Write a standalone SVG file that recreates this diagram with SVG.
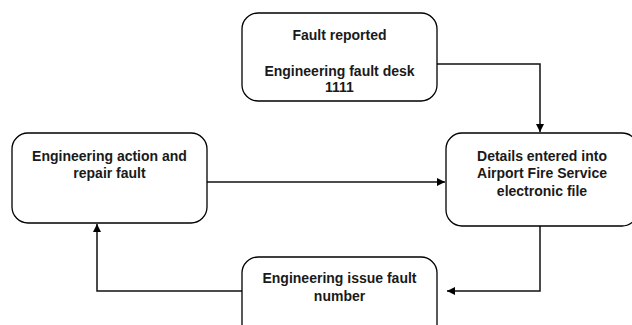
<svg xmlns="http://www.w3.org/2000/svg" width="632" height="325" viewBox="0 0 632 325">
  <style>
    .box { fill: #ffffff; stroke: #000000; stroke-width: 1.3; }
    .lbl { font-family: "Liberation Sans", Arial, sans-serif; font-size: 14px; font-weight: bold; fill: #1a1a1a; text-anchor: middle; }
    .edge { fill: none; stroke: #111111; stroke-width: 1.5; }
  </style>
  <defs>
    <marker id="arrow" viewBox="0 0 10 10" refX="10" refY="5" markerWidth="8" markerHeight="8" markerUnits="userSpaceOnUse" orient="auto">
      <path d="M0,0 L10,5 L0,10 z" fill="#000000"/>
    </marker>
  </defs>
  <rect width="632" height="325" fill="#ffffff"/>

  <g id="connectors">
    <path class="edge" d="M437,64 H540 V132" marker-end="url(#arrow)"/>
    <path class="edge" d="M207,182 H445" marker-end="url(#arrow)"/>
    <path class="edge" d="M540,226 V291 H447" marker-end="url(#arrow)"/>
    <path class="edge" d="M242,291 H97 V224" marker-end="url(#arrow)"/>
  </g>

  <g id="fault-reported">
    <rect class="box" x="242" y="13" width="195" height="88" rx="16"/>
    <text class="lbl" x="339.5" y="40">Fault reported</text>
    <text class="lbl" x="339.5" y="76">Engineering fault desk</text>
    <text class="lbl" x="339.5" y="92">1111</text>
  </g>

  <g id="engineering-action">
    <rect class="box" x="12" y="133" width="195" height="90" rx="16"/>
    <text class="lbl" x="109.5" y="161">Engineering action and</text>
    <text class="lbl" x="109.5" y="178">repair fault</text>
  </g>

  <g id="details-entered">
    <rect class="box" x="446" y="133" width="192" height="93" rx="16"/>
    <text class="lbl" x="542" y="161">Details entered into</text>
    <text class="lbl" x="542" y="178">Airport Fire Service</text>
    <text class="lbl" x="542" y="196">electronic file</text>
  </g>

  <g id="issue-fault-number">
    <rect class="box" x="242" y="257" width="195" height="88" rx="16"/>
    <text class="lbl" x="339.5" y="283">Engineering issue fault</text>
    <text class="lbl" x="339.5" y="301">number</text>
  </g>
</svg>
